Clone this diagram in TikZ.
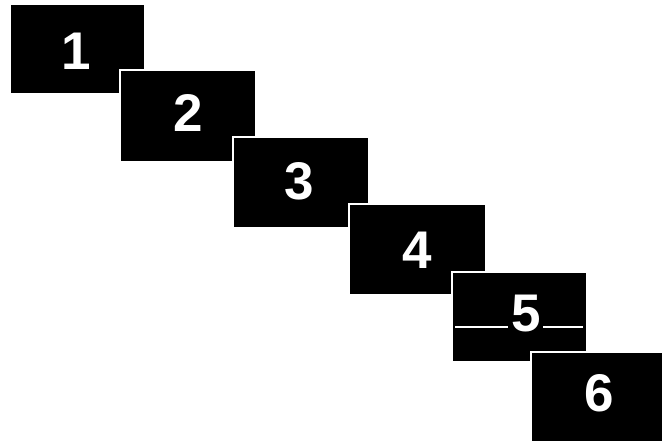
\documentclass[tikz,border=0pt]{standalone}
\usepackage{fontspec}
\setmainfont{Liberation Sans}
\begin{document}
\begin{tikzpicture}[x=1pt,y=-1pt,
  panel/.style={fill=black,draw=white,line width=2pt,inner sep=0pt},
  num/.style={text=white,font=\fontsize{53}{53}\selectfont\bfseries,inner sep=0pt}]
\useasboundingbox[fill=white] (0,0) rectangle (672,443);
\node[panel,minimum width=135pt,minimum height=90pt] (b1) at (77.5,49) {};
\node[num] (n1) at (76,51) {1};
\node[panel,minimum width=136pt,minimum height=92pt] (b2) at (188,116) {};
\node[num] (n2) at (188,113) {2};
\node[panel,minimum width=136pt,minimum height=91pt] (b3) at (301,182.5) {};
\node[num] (n3) at (299,181) {3};
\node[panel,minimum width=137pt,minimum height=91pt] (b4) at (417.5,249.5) {};
\node[num] (n4) at (417,250) {4};
\node[panel,minimum width=135pt,minimum height=90pt] (b5) at (519.5,317) {};
\node[num] (n5) at (526,314) {5};
\coordinate (l1) at (455,327);
\coordinate (l2) at (508,327);
\coordinate (r1) at (543,327);
\coordinate (r2) at (583,327);
\draw[white,line width=1.5pt] (l1) -- (l2);
\draw[white,line width=1.5pt] (r1) -- (r2);
\node[panel,minimum width=132pt,minimum height=90pt] (b6) at (597,397) {};
\node[num] (n6) at (599,393) {6};
\end{tikzpicture}
\end{document}
